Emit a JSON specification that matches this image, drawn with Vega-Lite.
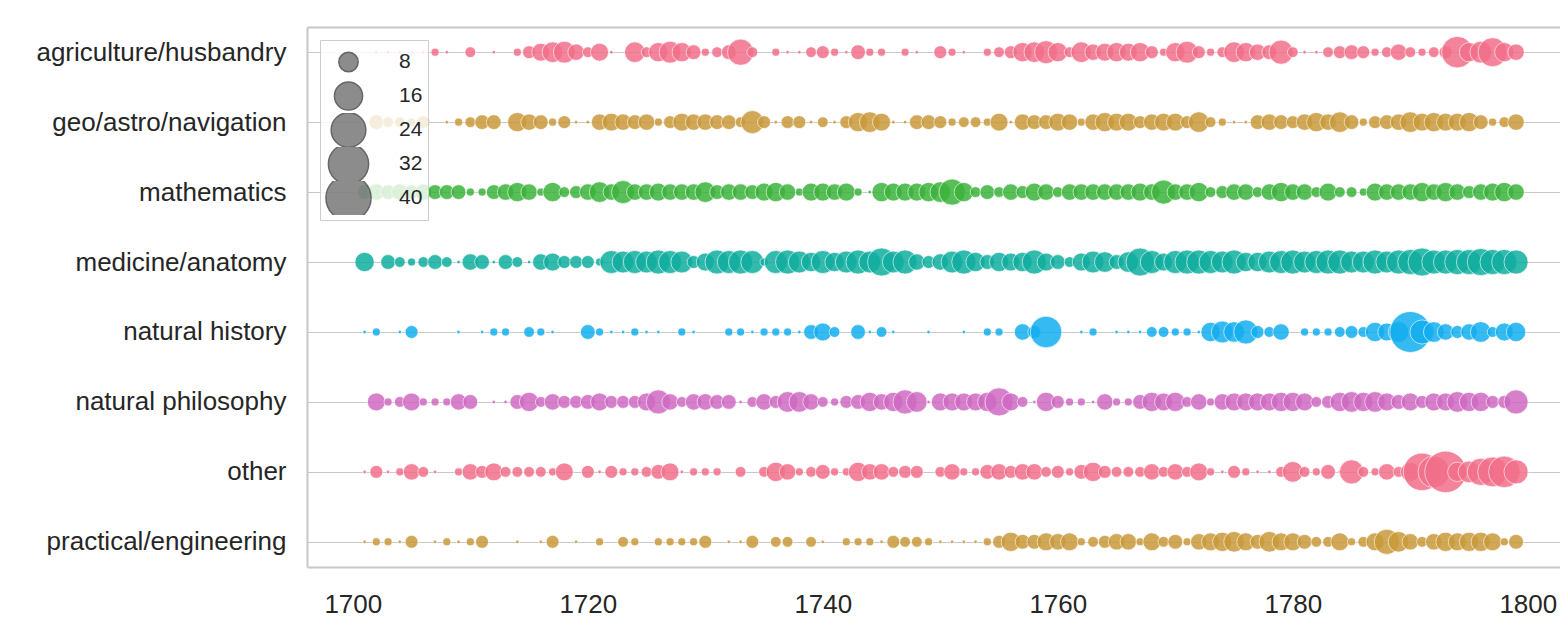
{
"$schema":"https://vega.github.io/schema/vega-lite/v6.json",
"width":1253,"height":540,
"autosize":{"type":"none"},
"padding":{"left":307,"top":27,"right":0,"bottom":55},
"config":{"font":"Liberation Sans","view":{"stroke":null}},
"data":{"values":[
{"category":"agriculture/husbandry","year":1702,"count":1},{"category":"agriculture/husbandry","year":1703,"count":1},{"category":"agriculture/husbandry","year":1704,"count":1},{"category":"agriculture/husbandry","year":1705,"count":1},{"category":"agriculture/husbandry","year":1706,"count":1},{"category":"agriculture/husbandry","year":1707,"count":2},{"category":"agriculture/husbandry","year":1708,"count":1},{"category":"agriculture/husbandry","year":1710,"count":3},{"category":"agriculture/husbandry","year":1712,"count":1},{"category":"agriculture/husbandry","year":1714,"count":2},{"category":"agriculture/husbandry","year":1715,"count":4},{"category":"agriculture/husbandry","year":1716,"count":7},{"category":"agriculture/husbandry","year":1717,"count":9},{"category":"agriculture/husbandry","year":1718,"count":10},{"category":"agriculture/husbandry","year":1719,"count":6},{"category":"agriculture/husbandry","year":1720,"count":3},{"category":"agriculture/husbandry","year":1721,"count":7},{"category":"agriculture/husbandry","year":1722,"count":1},{"category":"agriculture/husbandry","year":1724,"count":9},{"category":"agriculture/husbandry","year":1725,"count":3},{"category":"agriculture/husbandry","year":1726,"count":8},{"category":"agriculture/husbandry","year":1727,"count":10},{"category":"agriculture/husbandry","year":1728,"count":8},{"category":"agriculture/husbandry","year":1729,"count":5},{"category":"agriculture/husbandry","year":1730,"count":2},{"category":"agriculture/husbandry","year":1731,"count":3},{"category":"agriculture/husbandry","year":1732,"count":5},{"category":"agriculture/husbandry","year":1733,"count":14},{"category":"agriculture/husbandry","year":1734,"count":3},{"category":"agriculture/husbandry","year":1736,"count":2},{"category":"agriculture/husbandry","year":1737,"count":1},{"category":"agriculture/husbandry","year":1738,"count":1},{"category":"agriculture/husbandry","year":1739,"count":3},{"category":"agriculture/husbandry","year":1740,"count":4},{"category":"agriculture/husbandry","year":1741,"count":2},{"category":"agriculture/husbandry","year":1742,"count":1},{"category":"agriculture/husbandry","year":1743,"count":5},{"category":"agriculture/husbandry","year":1744,"count":2},{"category":"agriculture/husbandry","year":1745,"count":2},{"category":"agriculture/husbandry","year":1747,"count":2},{"category":"agriculture/husbandry","year":1748,"count":1},{"category":"agriculture/husbandry","year":1750,"count":4},{"category":"agriculture/husbandry","year":1751,"count":2},{"category":"agriculture/husbandry","year":1752,"count":1},{"category":"agriculture/husbandry","year":1754,"count":2},{"category":"agriculture/husbandry","year":1755,"count":3},{"category":"agriculture/husbandry","year":1756,"count":4},{"category":"agriculture/husbandry","year":1757,"count":8},{"category":"agriculture/husbandry","year":1758,"count":9},{"category":"agriculture/husbandry","year":1759,"count":11},{"category":"agriculture/husbandry","year":1760,"count":8},{"category":"agriculture/husbandry","year":1761,"count":3},{"category":"agriculture/husbandry","year":1762,"count":9},{"category":"agriculture/husbandry","year":1763,"count":6},{"category":"agriculture/husbandry","year":1764,"count":7},{"category":"agriculture/husbandry","year":1765,"count":8},{"category":"agriculture/husbandry","year":1766,"count":7},{"category":"agriculture/husbandry","year":1767,"count":8},{"category":"agriculture/husbandry","year":1768,"count":4},{"category":"agriculture/husbandry","year":1769,"count":2},{"category":"agriculture/husbandry","year":1770,"count":8},{"category":"agriculture/husbandry","year":1771,"count":10},{"category":"agriculture/husbandry","year":1772,"count":4},{"category":"agriculture/husbandry","year":1773,"count":2},{"category":"agriculture/husbandry","year":1774,"count":3},{"category":"agriculture/husbandry","year":1775,"count":9},{"category":"agriculture/husbandry","year":1776,"count":8},{"category":"agriculture/husbandry","year":1777,"count":6},{"category":"agriculture/husbandry","year":1778,"count":5},{"category":"agriculture/husbandry","year":1779,"count":12},{"category":"agriculture/husbandry","year":1780,"count":3},{"category":"agriculture/husbandry","year":1781,"count":1},{"category":"agriculture/husbandry","year":1782,"count":1},{"category":"agriculture/husbandry","year":1783,"count":3},{"category":"agriculture/husbandry","year":1784,"count":4},{"category":"agriculture/husbandry","year":1785,"count":5},{"category":"agriculture/husbandry","year":1786,"count":4},{"category":"agriculture/husbandry","year":1787,"count":2},{"category":"agriculture/husbandry","year":1788,"count":3},{"category":"agriculture/husbandry","year":1789,"count":6},{"category":"agriculture/husbandry","year":1790,"count":3},{"category":"agriculture/husbandry","year":1791,"count":2},{"category":"agriculture/husbandry","year":1792,"count":3},{"category":"agriculture/husbandry","year":1793,"count":4},{"category":"agriculture/husbandry","year":1794,"count":20},{"category":"agriculture/husbandry","year":1795,"count":8},{"category":"agriculture/husbandry","year":1796,"count":10},{"category":"agriculture/husbandry","year":1797,"count":17},{"category":"agriculture/husbandry","year":1798,"count":8},{"category":"agriculture/husbandry","year":1799,"count":6},
{"category":"geo/astro/navigation","year":1702,"count":5},{"category":"geo/astro/navigation","year":1703,"count":3},{"category":"geo/astro/navigation","year":1704,"count":3},{"category":"geo/astro/navigation","year":1705,"count":2},{"category":"geo/astro/navigation","year":1706,"count":4},{"category":"geo/astro/navigation","year":1708,"count":1},{"category":"geo/astro/navigation","year":1709,"count":2},{"category":"geo/astro/navigation","year":1710,"count":3},{"category":"geo/astro/navigation","year":1711,"count":5},{"category":"geo/astro/navigation","year":1712,"count":5},{"category":"geo/astro/navigation","year":1714,"count":8},{"category":"geo/astro/navigation","year":1715,"count":6},{"category":"geo/astro/navigation","year":1716,"count":5},{"category":"geo/astro/navigation","year":1717,"count":2},{"category":"geo/astro/navigation","year":1718,"count":4},{"category":"geo/astro/navigation","year":1719,"count":1},{"category":"geo/astro/navigation","year":1720,"count":1},{"category":"geo/astro/navigation","year":1721,"count":6},{"category":"geo/astro/navigation","year":1722,"count":7},{"category":"geo/astro/navigation","year":1723,"count":6},{"category":"geo/astro/navigation","year":1724,"count":5},{"category":"geo/astro/navigation","year":1725,"count":6},{"category":"geo/astro/navigation","year":1726,"count":2},{"category":"geo/astro/navigation","year":1727,"count":4},{"category":"geo/astro/navigation","year":1728,"count":7},{"category":"geo/astro/navigation","year":1729,"count":6},{"category":"geo/astro/navigation","year":1730,"count":6},{"category":"geo/astro/navigation","year":1731,"count":5},{"category":"geo/astro/navigation","year":1732,"count":5},{"category":"geo/astro/navigation","year":1733,"count":3},{"category":"geo/astro/navigation","year":1734,"count":11},{"category":"geo/astro/navigation","year":1735,"count":4},{"category":"geo/astro/navigation","year":1736,"count":1},{"category":"geo/astro/navigation","year":1737,"count":4},{"category":"geo/astro/navigation","year":1738,"count":4},{"category":"geo/astro/navigation","year":1739,"count":1},{"category":"geo/astro/navigation","year":1740,"count":3},{"category":"geo/astro/navigation","year":1741,"count":1},{"category":"geo/astro/navigation","year":1742,"count":4},{"category":"geo/astro/navigation","year":1743,"count":8},{"category":"geo/astro/navigation","year":1744,"count":9},{"category":"geo/astro/navigation","year":1745,"count":7},{"category":"geo/astro/navigation","year":1746,"count":1},{"category":"geo/astro/navigation","year":1747,"count":1},{"category":"geo/astro/navigation","year":1748,"count":5},{"category":"geo/astro/navigation","year":1749,"count":5},{"category":"geo/astro/navigation","year":1750,"count":4},{"category":"geo/astro/navigation","year":1751,"count":2},{"category":"geo/astro/navigation","year":1752,"count":3},{"category":"geo/astro/navigation","year":1753,"count":3},{"category":"geo/astro/navigation","year":1754,"count":2},{"category":"geo/astro/navigation","year":1755,"count":7},{"category":"geo/astro/navigation","year":1756,"count":1},{"category":"geo/astro/navigation","year":1757,"count":6},{"category":"geo/astro/navigation","year":1758,"count":5},{"category":"geo/astro/navigation","year":1759,"count":5},{"category":"geo/astro/navigation","year":1760,"count":7},{"category":"geo/astro/navigation","year":1761,"count":6},{"category":"geo/astro/navigation","year":1762,"count":2},{"category":"geo/astro/navigation","year":1763,"count":6},{"category":"geo/astro/navigation","year":1764,"count":8},{"category":"geo/astro/navigation","year":1765,"count":7},{"category":"geo/astro/navigation","year":1766,"count":7},{"category":"geo/astro/navigation","year":1767,"count":4},{"category":"geo/astro/navigation","year":1768,"count":6},{"category":"geo/astro/navigation","year":1769,"count":7},{"category":"geo/astro/navigation","year":1770,"count":7},{"category":"geo/astro/navigation","year":1771,"count":4},{"category":"geo/astro/navigation","year":1772,"count":9},{"category":"geo/astro/navigation","year":1773,"count":3},{"category":"geo/astro/navigation","year":1774,"count":2},{"category":"geo/astro/navigation","year":1775,"count":1},{"category":"geo/astro/navigation","year":1776,"count":1},{"category":"geo/astro/navigation","year":1777,"count":5},{"category":"geo/astro/navigation","year":1778,"count":6},{"category":"geo/astro/navigation","year":1779,"count":5},{"category":"geo/astro/navigation","year":1780,"count":4},{"category":"geo/astro/navigation","year":1781,"count":6},{"category":"geo/astro/navigation","year":1782,"count":8},{"category":"geo/astro/navigation","year":1783,"count":6},{"category":"geo/astro/navigation","year":1784,"count":9},{"category":"geo/astro/navigation","year":1785,"count":5},{"category":"geo/astro/navigation","year":1786,"count":2},{"category":"geo/astro/navigation","year":1787,"count":4},{"category":"geo/astro/navigation","year":1788,"count":5},{"category":"geo/astro/navigation","year":1789,"count":6},{"category":"geo/astro/navigation","year":1790,"count":9},{"category":"geo/astro/navigation","year":1791,"count":7},{"category":"geo/astro/navigation","year":1792,"count":8},{"category":"geo/astro/navigation","year":1793,"count":7},{"category":"geo/astro/navigation","year":1794,"count":7},{"category":"geo/astro/navigation","year":1795,"count":8},{"category":"geo/astro/navigation","year":1796,"count":5},{"category":"geo/astro/navigation","year":1797,"count":2},{"category":"geo/astro/navigation","year":1798,"count":3},{"category":"geo/astro/navigation","year":1799,"count":6},
{"category":"mathematics","year":1701,"count":5},{"category":"mathematics","year":1702,"count":6},{"category":"mathematics","year":1703,"count":5},{"category":"mathematics","year":1704,"count":6},{"category":"mathematics","year":1705,"count":5},{"category":"mathematics","year":1706,"count":6},{"category":"mathematics","year":1707,"count":5},{"category":"mathematics","year":1708,"count":5},{"category":"mathematics","year":1709,"count":5},{"category":"mathematics","year":1710,"count":2},{"category":"mathematics","year":1711,"count":2},{"category":"mathematics","year":1712,"count":5},{"category":"mathematics","year":1713,"count":6},{"category":"mathematics","year":1714,"count":8},{"category":"mathematics","year":1715,"count":6},{"category":"mathematics","year":1716,"count":2},{"category":"mathematics","year":1717,"count":8},{"category":"mathematics","year":1718,"count":3},{"category":"mathematics","year":1719,"count":4},{"category":"mathematics","year":1720,"count":6},{"category":"mathematics","year":1721,"count":9},{"category":"mathematics","year":1722,"count":6},{"category":"mathematics","year":1723,"count":11},{"category":"mathematics","year":1724,"count":6},{"category":"mathematics","year":1725,"count":6},{"category":"mathematics","year":1726,"count":7},{"category":"mathematics","year":1727,"count":6},{"category":"mathematics","year":1728,"count":6},{"category":"mathematics","year":1729,"count":6},{"category":"mathematics","year":1730,"count":9},{"category":"mathematics","year":1731,"count":5},{"category":"mathematics","year":1732,"count":6},{"category":"mathematics","year":1733,"count":6},{"category":"mathematics","year":1734,"count":5},{"category":"mathematics","year":1735,"count":7},{"category":"mathematics","year":1736,"count":8},{"category":"mathematics","year":1737,"count":6},{"category":"mathematics","year":1738,"count":2},{"category":"mathematics","year":1739,"count":7},{"category":"mathematics","year":1740,"count":7},{"category":"mathematics","year":1741,"count":6},{"category":"mathematics","year":1742,"count":7},{"category":"mathematics","year":1743,"count":2},{"category":"mathematics","year":1744,"count":1},{"category":"mathematics","year":1745,"count":8},{"category":"mathematics","year":1746,"count":7},{"category":"mathematics","year":1747,"count":7},{"category":"mathematics","year":1748,"count":7},{"category":"mathematics","year":1749,"count":8},{"category":"mathematics","year":1750,"count":9},{"category":"mathematics","year":1751,"count":14},{"category":"mathematics","year":1752,"count":8},{"category":"mathematics","year":1753,"count":3},{"category":"mathematics","year":1754,"count":5},{"category":"mathematics","year":1755,"count":3},{"category":"mathematics","year":1756,"count":6},{"category":"mathematics","year":1757,"count":4},{"category":"mathematics","year":1758,"count":7},{"category":"mathematics","year":1759,"count":6},{"category":"mathematics","year":1760,"count":3},{"category":"mathematics","year":1761,"count":6},{"category":"mathematics","year":1762,"count":6},{"category":"mathematics","year":1763,"count":6},{"category":"mathematics","year":1764,"count":6},{"category":"mathematics","year":1765,"count":6},{"category":"mathematics","year":1766,"count":6},{"category":"mathematics","year":1767,"count":7},{"category":"mathematics","year":1768,"count":6},{"category":"mathematics","year":1769,"count":12},{"category":"mathematics","year":1770,"count":6},{"category":"mathematics","year":1771,"count":6},{"category":"mathematics","year":1772,"count":8},{"category":"mathematics","year":1773,"count":3},{"category":"mathematics","year":1774,"count":4},{"category":"mathematics","year":1775,"count":6},{"category":"mathematics","year":1776,"count":6},{"category":"mathematics","year":1777,"count":3},{"category":"mathematics","year":1778,"count":6},{"category":"mathematics","year":1779,"count":8},{"category":"mathematics","year":1780,"count":6},{"category":"mathematics","year":1781,"count":6},{"category":"mathematics","year":1782,"count":3},{"category":"mathematics","year":1783,"count":7},{"category":"mathematics","year":1784,"count":3},{"category":"mathematics","year":1785,"count":3},{"category":"mathematics","year":1786,"count":2},{"category":"mathematics","year":1787,"count":7},{"category":"mathematics","year":1788,"count":6},{"category":"mathematics","year":1789,"count":6},{"category":"mathematics","year":1790,"count":6},{"category":"mathematics","year":1791,"count":8},{"category":"mathematics","year":1792,"count":6},{"category":"mathematics","year":1793,"count":8},{"category":"mathematics","year":1794,"count":6},{"category":"mathematics","year":1795,"count":4},{"category":"mathematics","year":1796,"count":6},{"category":"mathematics","year":1797,"count":7},{"category":"mathematics","year":1798,"count":8},{"category":"mathematics","year":1799,"count":6},
{"category":"medicine/anatomy","year":1701,"count":8},{"category":"medicine/anatomy","year":1703,"count":5},{"category":"medicine/anatomy","year":1704,"count":3},{"category":"medicine/anatomy","year":1705,"count":2},{"category":"medicine/anatomy","year":1706,"count":3},{"category":"medicine/anatomy","year":1707,"count":5},{"category":"medicine/anatomy","year":1708,"count":3},{"category":"medicine/anatomy","year":1709,"count":1},{"category":"medicine/anatomy","year":1710,"count":6},{"category":"medicine/anatomy","year":1711,"count":5},{"category":"medicine/anatomy","year":1712,"count":1},{"category":"medicine/anatomy","year":1713,"count":5},{"category":"medicine/anatomy","year":1714,"count":3},{"category":"medicine/anatomy","year":1715,"count":1},{"category":"medicine/anatomy","year":1716,"count":6},{"category":"medicine/anatomy","year":1717,"count":7},{"category":"medicine/anatomy","year":1718,"count":4},{"category":"medicine/anatomy","year":1719,"count":4},{"category":"medicine/anatomy","year":1720,"count":4},{"category":"medicine/anatomy","year":1721,"count":2},{"category":"medicine/anatomy","year":1722,"count":11},{"category":"medicine/anatomy","year":1723,"count":10},{"category":"medicine/anatomy","year":1724,"count":11},{"category":"medicine/anatomy","year":1725,"count":10},{"category":"medicine/anatomy","year":1726,"count":12},{"category":"medicine/anatomy","year":1727,"count":11},{"category":"medicine/anatomy","year":1728,"count":10},{"category":"medicine/anatomy","year":1729,"count":4},{"category":"medicine/anatomy","year":1730,"count":7},{"category":"medicine/anatomy","year":1731,"count":12},{"category":"medicine/anatomy","year":1732,"count":11},{"category":"medicine/anatomy","year":1733,"count":12},{"category":"medicine/anatomy","year":1734,"count":11},{"category":"medicine/anatomy","year":1735,"count":2},{"category":"medicine/anatomy","year":1736,"count":11},{"category":"medicine/anatomy","year":1737,"count":12},{"category":"medicine/anatomy","year":1738,"count":10},{"category":"medicine/anatomy","year":1739,"count":8},{"category":"medicine/anatomy","year":1740,"count":11},{"category":"medicine/anatomy","year":1741,"count":8},{"category":"medicine/anatomy","year":1742,"count":10},{"category":"medicine/anatomy","year":1743,"count":12},{"category":"medicine/anatomy","year":1744,"count":10},{"category":"medicine/anatomy","year":1745,"count":16},{"category":"medicine/anatomy","year":1746,"count":10},{"category":"medicine/anatomy","year":1747,"count":12},{"category":"medicine/anatomy","year":1748,"count":6},{"category":"medicine/anatomy","year":1749,"count":4},{"category":"medicine/anatomy","year":1750,"count":6},{"category":"medicine/anatomy","year":1751,"count":10},{"category":"medicine/anatomy","year":1752,"count":12},{"category":"medicine/anatomy","year":1753,"count":8},{"category":"medicine/anatomy","year":1754,"count":5},{"category":"medicine/anatomy","year":1755,"count":8},{"category":"medicine/anatomy","year":1756,"count":7},{"category":"medicine/anatomy","year":1757,"count":8},{"category":"medicine/anatomy","year":1758,"count":12},{"category":"medicine/anatomy","year":1759,"count":7},{"category":"medicine/anatomy","year":1760,"count":5},{"category":"medicine/anatomy","year":1761,"count":3},{"category":"medicine/anatomy","year":1762,"count":7},{"category":"medicine/anatomy","year":1763,"count":10},{"category":"medicine/anatomy","year":1764,"count":9},{"category":"medicine/anatomy","year":1765,"count":5},{"category":"medicine/anatomy","year":1766,"count":9},{"category":"medicine/anatomy","year":1767,"count":16},{"category":"medicine/anatomy","year":1768,"count":11},{"category":"medicine/anatomy","year":1769,"count":7},{"category":"medicine/anatomy","year":1770,"count":11},{"category":"medicine/anatomy","year":1771,"count":12},{"category":"medicine/anatomy","year":1772,"count":12},{"category":"medicine/anatomy","year":1773,"count":11},{"category":"medicine/anatomy","year":1774,"count":10},{"category":"medicine/anatomy","year":1775,"count":12},{"category":"medicine/anatomy","year":1776,"count":8},{"category":"medicine/anatomy","year":1777,"count":8},{"category":"medicine/anatomy","year":1778,"count":10},{"category":"medicine/anatomy","year":1779,"count":11},{"category":"medicine/anatomy","year":1780,"count":12},{"category":"medicine/anatomy","year":1781,"count":10},{"category":"medicine/anatomy","year":1782,"count":11},{"category":"medicine/anatomy","year":1783,"count":12},{"category":"medicine/anatomy","year":1784,"count":12},{"category":"medicine/anatomy","year":1785,"count":10},{"category":"medicine/anatomy","year":1786,"count":10},{"category":"medicine/anatomy","year":1787,"count":12},{"category":"medicine/anatomy","year":1788,"count":10},{"category":"medicine/anatomy","year":1789,"count":12},{"category":"medicine/anatomy","year":1790,"count":13},{"category":"medicine/anatomy","year":1791,"count":16},{"category":"medicine/anatomy","year":1792,"count":12},{"category":"medicine/anatomy","year":1793,"count":12},{"category":"medicine/anatomy","year":1794,"count":13},{"category":"medicine/anatomy","year":1795,"count":13},{"category":"medicine/anatomy","year":1796,"count":15},{"category":"medicine/anatomy","year":1797,"count":13},{"category":"medicine/anatomy","year":1798,"count":13},{"category":"medicine/anatomy","year":1799,"count":12},
{"category":"natural history","year":1701,"count":1},{"category":"natural history","year":1702,"count":2},{"category":"natural history","year":1704,"count":1},{"category":"natural history","year":1705,"count":4},{"category":"natural history","year":1709,"count":1},{"category":"natural history","year":1711,"count":1},{"category":"natural history","year":1712,"count":2},{"category":"natural history","year":1713,"count":2},{"category":"natural history","year":1715,"count":3},{"category":"natural history","year":1716,"count":2},{"category":"natural history","year":1717,"count":1},{"category":"natural history","year":1720,"count":5},{"category":"natural history","year":1721,"count":2},{"category":"natural history","year":1722,"count":1},{"category":"natural history","year":1723,"count":1},{"category":"natural history","year":1724,"count":2},{"category":"natural history","year":1725,"count":1},{"category":"natural history","year":1726,"count":1},{"category":"natural history","year":1728,"count":2},{"category":"natural history","year":1729,"count":1},{"category":"natural history","year":1732,"count":2},{"category":"natural history","year":1733,"count":2},{"category":"natural history","year":1734,"count":1},{"category":"natural history","year":1735,"count":2},{"category":"natural history","year":1736,"count":2},{"category":"natural history","year":1737,"count":2},{"category":"natural history","year":1738,"count":1},{"category":"natural history","year":1739,"count":5},{"category":"natural history","year":1740,"count":7},{"category":"natural history","year":1741,"count":3},{"category":"natural history","year":1743,"count":5},{"category":"natural history","year":1744,"count":1},{"category":"natural history","year":1745,"count":3},{"category":"natural history","year":1746,"count":1},{"category":"natural history","year":1749,"count":1},{"category":"natural history","year":1752,"count":1},{"category":"natural history","year":1754,"count":2},{"category":"natural history","year":1755,"count":2},{"category":"natural history","year":1757,"count":6},{"category":"natural history","year":1758,"count":4},{"category":"natural history","year":1759,"count":20},{"category":"natural history","year":1762,"count":1},{"category":"natural history","year":1763,"count":2},{"category":"natural history","year":1765,"count":1},{"category":"natural history","year":1766,"count":1},{"category":"natural history","year":1767,"count":1},{"category":"natural history","year":1768,"count":3},{"category":"natural history","year":1769,"count":3},{"category":"natural history","year":1770,"count":2},{"category":"natural history","year":1771,"count":2},{"category":"natural history","year":1772,"count":1},{"category":"natural history","year":1773,"count":8},{"category":"natural history","year":1774,"count":10},{"category":"natural history","year":1775,"count":9},{"category":"natural history","year":1776,"count":12},{"category":"natural history","year":1777,"count":4},{"category":"natural history","year":1778,"count":3},{"category":"natural history","year":1779,"count":6},{"category":"natural history","year":1781,"count":2},{"category":"natural history","year":1782,"count":2},{"category":"natural history","year":1783,"count":2},{"category":"natural history","year":1784,"count":3},{"category":"natural history","year":1785,"count":4},{"category":"natural history","year":1786,"count":3},{"category":"natural history","year":1787,"count":8},{"category":"natural history","year":1788,"count":7},{"category":"natural history","year":1789,"count":9},{"category":"natural history","year":1790,"count":33},{"category":"natural history","year":1791,"count":12},{"category":"natural history","year":1792,"count":9},{"category":"natural history","year":1793,"count":6},{"category":"natural history","year":1794,"count":4},{"category":"natural history","year":1795,"count":6},{"category":"natural history","year":1796,"count":9},{"category":"natural history","year":1797,"count":3},{"category":"natural history","year":1798,"count":7},{"category":"natural history","year":1799,"count":8},
{"category":"natural philosophy","year":1702,"count":7},{"category":"natural philosophy","year":1703,"count":2},{"category":"natural philosophy","year":1704,"count":3},{"category":"natural philosophy","year":1705,"count":7},{"category":"natural philosophy","year":1706,"count":2},{"category":"natural philosophy","year":1707,"count":2},{"category":"natural philosophy","year":1708,"count":2},{"category":"natural philosophy","year":1709,"count":6},{"category":"natural philosophy","year":1710,"count":5},{"category":"natural philosophy","year":1712,"count":1},{"category":"natural philosophy","year":1713,"count":1},{"category":"natural philosophy","year":1714,"count":5},{"category":"natural philosophy","year":1715,"count":8},{"category":"natural philosophy","year":1716,"count":3},{"category":"natural philosophy","year":1717,"count":6},{"category":"natural philosophy","year":1718,"count":4},{"category":"natural philosophy","year":1719,"count":4},{"category":"natural philosophy","year":1720,"count":5},{"category":"natural philosophy","year":1721,"count":7},{"category":"natural philosophy","year":1722,"count":4},{"category":"natural philosophy","year":1723,"count":4},{"category":"natural philosophy","year":1724,"count":4},{"category":"natural philosophy","year":1725,"count":7},{"category":"natural philosophy","year":1726,"count":12},{"category":"natural philosophy","year":1727,"count":6},{"category":"natural philosophy","year":1728,"count":3},{"category":"natural philosophy","year":1729,"count":6},{"category":"natural philosophy","year":1730,"count":6},{"category":"natural philosophy","year":1731,"count":5},{"category":"natural philosophy","year":1732,"count":5},{"category":"natural philosophy","year":1733,"count":1},{"category":"natural philosophy","year":1734,"count":3},{"category":"natural philosophy","year":1735,"count":6},{"category":"natural philosophy","year":1736,"count":4},{"category":"natural philosophy","year":1737,"count":9},{"category":"natural philosophy","year":1738,"count":9},{"category":"natural philosophy","year":1739,"count":6},{"category":"natural philosophy","year":1740,"count":3},{"category":"natural philosophy","year":1741,"count":2},{"category":"natural philosophy","year":1742,"count":4},{"category":"natural philosophy","year":1743,"count":5},{"category":"natural philosophy","year":1744,"count":8},{"category":"natural philosophy","year":1745,"count":6},{"category":"natural philosophy","year":1746,"count":8},{"category":"natural philosophy","year":1747,"count":12},{"category":"natural philosophy","year":1748,"count":9},{"category":"natural philosophy","year":1749,"count":1},{"category":"natural philosophy","year":1750,"count":7},{"category":"natural philosophy","year":1751,"count":7},{"category":"natural philosophy","year":1752,"count":7},{"category":"natural philosophy","year":1753,"count":7},{"category":"natural philosophy","year":1754,"count":8},{"category":"natural philosophy","year":1755,"count":16},{"category":"natural philosophy","year":1756,"count":7},{"category":"natural philosophy","year":1757,"count":3},{"category":"natural philosophy","year":1758,"count":1},{"category":"natural philosophy","year":1759,"count":8},{"category":"natural philosophy","year":1760,"count":4},{"category":"natural philosophy","year":1761,"count":2},{"category":"natural philosophy","year":1762,"count":2},{"category":"natural philosophy","year":1763,"count":1},{"category":"natural philosophy","year":1764,"count":6},{"category":"natural philosophy","year":1765,"count":2},{"category":"natural philosophy","year":1766,"count":2},{"category":"natural philosophy","year":1767,"count":5},{"category":"natural philosophy","year":1768,"count":8},{"category":"natural philosophy","year":1769,"count":7},{"category":"natural philosophy","year":1770,"count":8},{"category":"natural philosophy","year":1771,"count":3},{"category":"natural philosophy","year":1772,"count":6},{"category":"natural philosophy","year":1773,"count":2},{"category":"natural philosophy","year":1774,"count":6},{"category":"natural philosophy","year":1775,"count":7},{"category":"natural philosophy","year":1776,"count":7},{"category":"natural philosophy","year":1777,"count":7},{"category":"natural philosophy","year":1778,"count":7},{"category":"natural philosophy","year":1779,"count":8},{"category":"natural philosophy","year":1780,"count":8},{"category":"natural philosophy","year":1781,"count":7},{"category":"natural philosophy","year":1782,"count":3},{"category":"natural philosophy","year":1783,"count":4},{"category":"natural philosophy","year":1784,"count":8},{"category":"natural philosophy","year":1785,"count":9},{"category":"natural philosophy","year":1786,"count":8},{"category":"natural philosophy","year":1787,"count":9},{"category":"natural philosophy","year":1788,"count":7},{"category":"natural philosophy","year":1789,"count":5},{"category":"natural philosophy","year":1790,"count":7},{"category":"natural philosophy","year":1791,"count":4},{"category":"natural philosophy","year":1792,"count":7},{"category":"natural philosophy","year":1793,"count":7},{"category":"natural philosophy","year":1794,"count":9},{"category":"natural philosophy","year":1795,"count":8},{"category":"natural philosophy","year":1796,"count":8},{"category":"natural philosophy","year":1797,"count":4},{"category":"natural philosophy","year":1798,"count":4},{"category":"natural philosophy","year":1799,"count":12},
{"category":"other","year":1701,"count":1},{"category":"other","year":1702,"count":4},{"category":"other","year":1703,"count":1},{"category":"other","year":1704,"count":2},{"category":"other","year":1705,"count":6},{"category":"other","year":1706,"count":3},{"category":"other","year":1707,"count":1},{"category":"other","year":1709,"count":2},{"category":"other","year":1710,"count":6},{"category":"other","year":1711,"count":4},{"category":"other","year":1712,"count":7},{"category":"other","year":1713,"count":3},{"category":"other","year":1714,"count":3},{"category":"other","year":1715,"count":3},{"category":"other","year":1716,"count":3},{"category":"other","year":1717,"count":2},{"category":"other","year":1718,"count":7},{"category":"other","year":1720,"count":4},{"category":"other","year":1721,"count":1},{"category":"other","year":1722,"count":4},{"category":"other","year":1723,"count":2},{"category":"other","year":1724,"count":2},{"category":"other","year":1725,"count":3},{"category":"other","year":1726,"count":5},{"category":"other","year":1727,"count":7},{"category":"other","year":1728,"count":1},{"category":"other","year":1729,"count":2},{"category":"other","year":1730,"count":2},{"category":"other","year":1731,"count":2},{"category":"other","year":1733,"count":3},{"category":"other","year":1735,"count":3},{"category":"other","year":1736,"count":8},{"category":"other","year":1737,"count":6},{"category":"other","year":1738,"count":2},{"category":"other","year":1739,"count":3},{"category":"other","year":1740,"count":5},{"category":"other","year":1741,"count":2},{"category":"other","year":1742,"count":2},{"category":"other","year":1743,"count":8},{"category":"other","year":1744,"count":6},{"category":"other","year":1745,"count":6},{"category":"other","year":1746,"count":3},{"category":"other","year":1747,"count":4},{"category":"other","year":1748,"count":4},{"category":"other","year":1750,"count":3},{"category":"other","year":1751,"count":6},{"category":"other","year":1752,"count":2},{"category":"other","year":1753,"count":2},{"category":"other","year":1754,"count":5},{"category":"other","year":1755,"count":6},{"category":"other","year":1756,"count":4},{"category":"other","year":1757,"count":6},{"category":"other","year":1758,"count":6},{"category":"other","year":1759,"count":3},{"category":"other","year":1760,"count":4},{"category":"other","year":1761,"count":2},{"category":"other","year":1762,"count":5},{"category":"other","year":1763,"count":8},{"category":"other","year":1764,"count":4},{"category":"other","year":1765,"count":3},{"category":"other","year":1766,"count":3},{"category":"other","year":1767,"count":3},{"category":"other","year":1768,"count":6},{"category":"other","year":1769,"count":3},{"category":"other","year":1770,"count":6},{"category":"other","year":1771,"count":3},{"category":"other","year":1772,"count":7},{"category":"other","year":1773,"count":2},{"category":"other","year":1774,"count":1},{"category":"other","year":1775,"count":4},{"category":"other","year":1776,"count":2},{"category":"other","year":1777,"count":1},{"category":"other","year":1778,"count":1},{"category":"other","year":1779,"count":3},{"category":"other","year":1780,"count":9},{"category":"other","year":1781,"count":3},{"category":"other","year":1782,"count":2},{"category":"other","year":1783,"count":5},{"category":"other","year":1784,"count":1},{"category":"other","year":1785,"count":12},{"category":"other","year":1786,"count":3},{"category":"other","year":1787,"count":2},{"category":"other","year":1788,"count":6},{"category":"other","year":1789,"count":3},{"category":"other","year":1790,"count":8},{"category":"other","year":1791,"count":28},{"category":"other","year":1792,"count":20},{"category":"other","year":1793,"count":34},{"category":"other","year":1794,"count":8},{"category":"other","year":1795,"count":10},{"category":"other","year":1796,"count":15},{"category":"other","year":1797,"count":18},{"category":"other","year":1798,"count":20},{"category":"other","year":1799,"count":12},
{"category":"practical/engineering","year":1701,"count":1},{"category":"practical/engineering","year":1702,"count":2},{"category":"practical/engineering","year":1703,"count":2},{"category":"practical/engineering","year":1704,"count":1},{"category":"practical/engineering","year":1705,"count":4},{"category":"practical/engineering","year":1707,"count":1},{"category":"practical/engineering","year":1708,"count":2},{"category":"practical/engineering","year":1709,"count":1},{"category":"practical/engineering","year":1710,"count":2},{"category":"practical/engineering","year":1711,"count":4},{"category":"practical/engineering","year":1714,"count":1},{"category":"practical/engineering","year":1716,"count":1},{"category":"practical/engineering","year":1717,"count":4},{"category":"practical/engineering","year":1719,"count":1},{"category":"practical/engineering","year":1721,"count":2},{"category":"practical/engineering","year":1723,"count":3},{"category":"practical/engineering","year":1724,"count":2},{"category":"practical/engineering","year":1726,"count":2},{"category":"practical/engineering","year":1727,"count":2},{"category":"practical/engineering","year":1728,"count":2},{"category":"practical/engineering","year":1729,"count":2},{"category":"practical/engineering","year":1730,"count":4},{"category":"practical/engineering","year":1732,"count":1},{"category":"practical/engineering","year":1733,"count":1},{"category":"practical/engineering","year":1734,"count":4},{"category":"practical/engineering","year":1736,"count":3},{"category":"practical/engineering","year":1737,"count":3},{"category":"practical/engineering","year":1739,"count":3},{"category":"practical/engineering","year":1740,"count":1},{"category":"practical/engineering","year":1742,"count":2},{"category":"practical/engineering","year":1743,"count":2},{"category":"practical/engineering","year":1744,"count":2},{"category":"practical/engineering","year":1745,"count":1},{"category":"practical/engineering","year":1746,"count":4},{"category":"practical/engineering","year":1747,"count":3},{"category":"practical/engineering","year":1748,"count":3},{"category":"practical/engineering","year":1749,"count":2},{"category":"practical/engineering","year":1750,"count":1},{"category":"practical/engineering","year":1751,"count":1},{"category":"practical/engineering","year":1752,"count":1},{"category":"practical/engineering","year":1753,"count":1},{"category":"practical/engineering","year":1754,"count":2},{"category":"practical/engineering","year":1755,"count":4},{"category":"practical/engineering","year":1756,"count":8},{"category":"practical/engineering","year":1757,"count":5},{"category":"practical/engineering","year":1758,"count":5},{"category":"practical/engineering","year":1759,"count":7},{"category":"practical/engineering","year":1760,"count":6},{"category":"practical/engineering","year":1761,"count":7},{"category":"practical/engineering","year":1762,"count":2},{"category":"practical/engineering","year":1763,"count":3},{"category":"practical/engineering","year":1764,"count":4},{"category":"practical/engineering","year":1765,"count":6},{"category":"practical/engineering","year":1766,"count":6},{"category":"practical/engineering","year":1767,"count":2},{"category":"practical/engineering","year":1768,"count":7},{"category":"practical/engineering","year":1769,"count":3},{"category":"practical/engineering","year":1770,"count":5},{"category":"practical/engineering","year":1771,"count":2},{"category":"practical/engineering","year":1772,"count":6},{"category":"practical/engineering","year":1773,"count":7},{"category":"practical/engineering","year":1774,"count":8},{"category":"practical/engineering","year":1775,"count":9},{"category":"practical/engineering","year":1776,"count":7},{"category":"practical/engineering","year":1777,"count":5},{"category":"practical/engineering","year":1778,"count":9},{"category":"practical/engineering","year":1779,"count":7},{"category":"practical/engineering","year":1780,"count":7},{"category":"practical/engineering","year":1781,"count":5},{"category":"practical/engineering","year":1782,"count":3},{"category":"practical/engineering","year":1783,"count":3},{"category":"practical/engineering","year":1784,"count":7},{"category":"practical/engineering","year":1785,"count":2},{"category":"practical/engineering","year":1786,"count":3},{"category":"practical/engineering","year":1787,"count":7},{"category":"practical/engineering","year":1788,"count":13},{"category":"practical/engineering","year":1789,"count":9},{"category":"practical/engineering","year":1790,"count":6},{"category":"practical/engineering","year":1791,"count":3},{"category":"practical/engineering","year":1792,"count":6},{"category":"practical/engineering","year":1793,"count":8},{"category":"practical/engineering","year":1794,"count":7},{"category":"practical/engineering","year":1795,"count":8},{"category":"practical/engineering","year":1796,"count":8},{"category":"practical/engineering","year":1797,"count":7},{"category":"practical/engineering","year":1798,"count":2},{"category":"practical/engineering","year":1799,"count":5}
]},
"encoding":{
"y":{"field":"category","type":"nominal","sort":["agriculture/husbandry","geo/astro/navigation","mathematics","medicine/anatomy","natural history","natural philosophy","other","practical/engineering"],
"scale":{"type":"point","padding":0.36},
"axis":{"title":null,"ticks":false,"domain":true,"domainColor":"#c8c8c8","domainWidth":2,"grid":true,"gridColor":"#c8c8c8","gridWidth":1.2,"labelFontSize":26,"labelColor":"#262626","labelPadding":21,"labelLimit":400}}
},
"layer":[
{"mark":{"type":"circle","opacity":0.85,"stroke":"white","strokeWidth":0.7},
"encoding":{
"x":{"field":"year","type":"quantitative","scale":{"domain":[1696.1,1802.74],"nice":false,"zero":false},
"axis":{"title":null,"values":[1700,1720,1740,1760,1780,1800],"format":"d","grid":false,"ticks":false,"domain":true,"domainColor":"#c8c8c8","domainWidth":2,"labelFontSize":26,"labelColor":"#262626","labelPadding":24,"labelFlush":false}},
"color":{"field":"category","type":"nominal","legend":null,
"scale":{"domain":["agriculture/husbandry","geo/astro/navigation","mathematics","medicine/anatomy","natural history","natural philosophy","other","practical/engineering"],
"range":["#f26f8a","#c99a3a","#3bb33b","#0fae9f","#12aef0","#cf69c2","#f26f8a","#c99a3a"]}},
"size":{"field":"count","type":"quantitative","scale":{"domain":[1,40],"range":[12.6,2033],"zero":false},
"legend":{"title":null,"orient":"top-left","offset":13,"values":[8,16,24,32,40],"labelFontSize":21,"labelColor":"#262626","labelOffset":27,
"symbolFillColor":"#404040","symbolStrokeColor":"#000000","symbolOpacity":0.6,"symbolStrokeWidth":1.5,"clipHeight":34,"rowPadding":0,
"fillColor":"rgba(255,255,255,0.8)","strokeColor":"#cccccc","padding":5}}
}},
{"mark":{"type":"circle","opacity":0},
"encoding":{
"x":{"field":"year","type":"quantitative","axis":{"orient":"top","title":null,"labels":false,"ticks":false,"grid":false,"domain":true,"domainColor":"#c8c8c8","domainWidth":2}}
}}
],
"resolve":{"axis":{"x":"independent"}}
}
